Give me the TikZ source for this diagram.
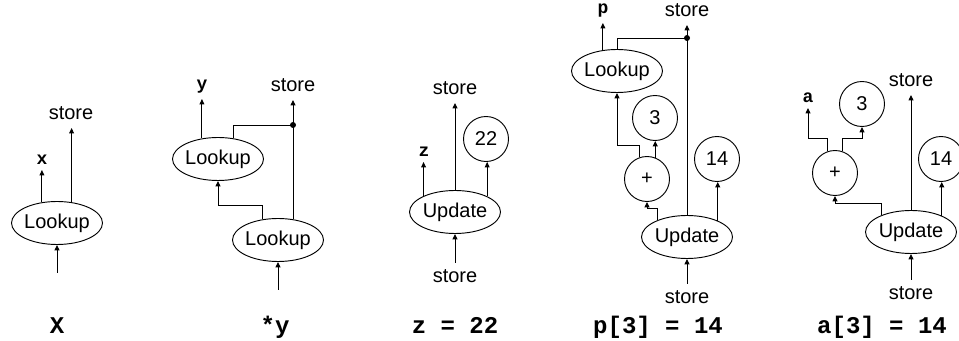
\documentclass[tikz,border=0pt]{standalone}
\usepackage{fontspec}
\setmainfont{Liberation Sans}
\setmonofont{Liberation Mono}
\usetikzlibrary{shapes.geometric,arrows.meta}
\begin{document}
\begin{tikzpicture}[x=0.75pt,y=-0.75pt,
  every node/.style={inner sep=0pt},
  sanf/.style={font=\fontsize{15pt}{18pt}\selectfont},
  ell/.style={ellipse,draw,line width=0.7pt,minimum width=68.25pt,minimum height=32.25pt,inner sep=0pt,sanf},
  circ/.style={circle,draw,line width=0.7pt,minimum size=33.75pt,inner sep=0pt,sanf},
  arr/.style={line width=0.7pt,-{Triangle[length=4pt,width=3.6pt]}},
  ln/.style={line width=0.7pt},
  toplbl/.style={anchor=south,outer sep=6.5pt,sanf},
  botlbl/.style={anchor=north,outer sep=5pt,sanf},
  varlbl/.style={anchor=south,outer sep=4pt,font=\ttfamily\bfseries\fontsize{13.5pt}{16pt}\selectfont},
  captxt/.style={anchor=base,font=\ttfamily\bfseries\fontsize{18pt}{20pt}\selectfont},
  dotn/.style={circle,fill,inner sep=0pt,minimum size=4.5pt}
]
\useasboundingbox (0,0) rectangle (959,341);

% Panel 1: X
\node[ell] (lk) at (57,223) {\makebox[0pt]{Lookup}};
\node[varlbl] (lx) at (42,170) {x};
\node[toplbl] (st1) at (71,128) {store};
\coordinate (in1) at (57,273);
\node[captxt] (cx) at (57,334) {X};
\draw[arr] (lk.126.5) -- (lk.126.5 |- lx.south);
\draw[arr] (lk.55.6) -- (lk.55.6 |- st1.south);
\draw[arr] (in1) -- (lk.south);

% Panel 2: *y
\node[ell] (L1) at (218,159) {\makebox[0pt]{Lookup}};
\node[ell] (L2) at (278,240) {\makebox[0pt]{Lookup}};
\node[varlbl] (ly) at (202,99) {y};
\node[toplbl] (st2) at (293,100) {store};
\node[dotn] (d1) at (293,125) {};
\coordinate (in2) at (278,290);
\node[captxt] (cy) at (275,334) {*y};
\draw[arr] (L1.128.5) -- (L1.128.5 |- ly.south);
\draw[ln] (L1.53.5) |- (d1.center);
\draw[ln] (d1.center |- L2.53.5) -- (d1.center);
\draw[arr] (d1.center) -- (st2.south);
\draw[arr] (L2.126.5) -- ++(0,-13.7) -| (L1.south);
\draw[arr] (in2) -- (L2.south);

% Panel 3: z = 22
\node[ell] (U1) at (455,212) {\makebox[0pt]{Update}};
\node[circ] (c22) at (486,139) {22};
\node[varlbl] (lz) at (424,162) {z};
\node[toplbl] (st3) at (455,103) {store};
\node[botlbl] (sb3) at (455,263) {store};
\node[captxt] (cz) at (455,334) {z = 22};
\draw[arr] (U1.153.1) -- (U1.153.1 |- lz.south);
\draw[arr] (U1.north) -- (st3.south);
\draw[arr] (U1.26.9) -- (U1.26.9 |- c22.south);
\draw[arr] (sb3.north) -- (U1.south);

% Panel 4: p[3] = 14
\node[ell] (L3) at (617,71) {\makebox[0pt]{Lookup}};
\node[ell] (U2) at (687,237) {\makebox[0pt]{Update}};
\node[circ] (c3) at (655,118) {3};
\node[circ] (cp) at (647,179) {+};
\node[circ] (c14) at (717,159) {14};
\node[varlbl] (lp) at (603,23) {p};
\node[toplbl] (st4) at (687,25) {store};
\node[dotn] (d2) at (687,38) {};
\node[botlbl] (sb4) at (687,284) {store};
\node[captxt] (cp4) at (658,334) {p[3] = 14};
\draw[arr] (L3.124.4) -- (L3.124.4 |- lp.south);
\draw[ln] (L3.north) |- (d2.center);
\draw[ln] (U2.north) -- (d2.center);
\draw[arr] (d2.center) -- (st4.south);
\draw[arr] (cp.110.8) -- ++(0,-12) -| (L3.south);
\draw[arr] (cp.69.2) -- (cp.69.2 |- c3.south);
\draw[arr] (U2.150.3) -- ++(0,-11.4) -| (cp.south);
\draw[arr] (U2.28.3) -- (U2.28.3 |- c14.south);
\draw[arr] (sb4.north) -- (U2.south);

% Panel 5: a[3] = 14
\node[ell] (U3) at (911,232) {\makebox[0pt]{Update}};
\node[circ] (cp2) at (835,173) {+};
\node[circ] (c3b) at (862,104) {3};
\node[circ] (c14b) at (941,159) {14};
\node[varlbl] (la) at (808,108) {a};
\node[toplbl] (st5) at (911,95) {store};
\node[botlbl] (sb5) at (911,280) {store};
\node[captxt] (ca) at (882,334) {a[3] = 14};
\draw[arr] (cp2.108.1) -- ++(0,-12.6) -| (la.south);
\draw[arr] (cp2.71.9) -- ++(0,-12.6) -| (c3b.south);
\draw[arr] (U3.151.7) -- ++(0,-11.8) -| (cp2.south);
\draw[arr] (U3.north) -- (st5.south);
\draw[arr] (U3.28.3) -- (U3.28.3 |- c14b.south);
\draw[arr] (sb5.north) -- (U3.south);
\end{tikzpicture}
\end{document}
